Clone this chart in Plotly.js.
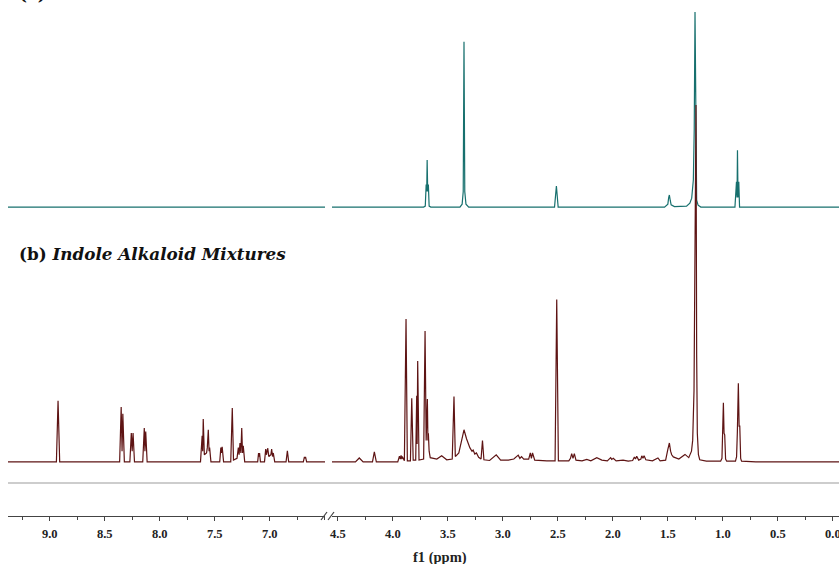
<!DOCTYPE html>
<html>
<head>
<meta charset="utf-8">
<script src="https://cdn.plot.ly/plotly-3.0.1.min.js"></script>
<style>html,body{margin:0;padding:0;background:#fff;}#chart{width:839px;height:564px;}</style>
</head>
<body>
<div id="chart"></div>
<script>
// (a) top spectrum (teal) — chemical shift (ppm) and relative intensity
const blankPpm = [9.5, 3.72, 3.705, 3.697, 3.692, 3.688, 3.683, 3.677, 3.67, 3.655,
  3.39, 3.37, 3.36, 3.353, 3.346, 3.335, 3.31,
  2.53, 2.513, 2.497,
  1.53, 1.50, 1.492, 1.486, 1.478, 1.47, 1.44,
  1.33, 1.30, 1.283, 1.268, 1.26, 1.253, 1.246, 1.238, 1.225, 1.20,
  0.89, 0.876, 0.871, 0.867, 0.862, 0.855, 0.848, -0.1];
const blankInt = [0, 0, 0.5, 11.6, 8, 24.1, 8, 11.6, 0.5, 0,
  0, 1.5, 8, 84.8, 8, 1.5, 0,
  0, 10.8, 0,
  0, 1.5, 5, 6.2, 3.4, 1.2, 0.3,
  0.5, 2, 4.6, 14, 40, 100, 20, 3.6, 1.0, 0,
  0, 13, 5, 29.2, 5, 13, 0, 0];

// (b) bottom spectrum (dark red) — Indole Alkaloid Mixtures
const mixPpm = [9.5, 8.94, 8.925, 8.91,
  8.365, 8.351, 8.343, 8.336, 8.322,
  8.272, 8.259, 8.251, 8.243, 8.230,
  8.155, 8.141, 8.135, 8.128, 8.115,
  7.63, 7.615, 7.610, 7.605, 7.595, 7.575, 7.568, 7.559, 7.552, 7.547, 7.535,
  7.455, 7.445, 7.440, 7.433, 7.42,
  7.355, 7.341, 7.33, 7.298, 7.286, 7.279, 7.271, 7.263, 7.255, 7.248, 7.241, 7.228,
  7.11, 7.102, 7.098, 7.093, 7.085,
  7.048, 7.037, 7.030, 7.019, 7.008, 6.99, 6.983, 6.975, 6.968, 6.955,
  6.852, 6.840, 6.828,
  6.695, 6.685, 6.680, 6.675, 6.665, 6.40,
  4.60, 4.34, 4.305, 4.27, 4.185, 4.168, 4.15,
  3.955, 3.94, 3.932, 3.925, 3.918, 3.914, 3.895, 3.88, 3.868,
  3.84, 3.828, 3.815, 3.792, 3.783, 3.779, 3.774, 3.762,
  3.72, 3.707, 3.697, 3.686, 3.681, 3.677, 3.67, 3.66,
  3.60, 3.556, 3.51, 3.46, 3.444, 3.432,
  3.40, 3.375, 3.353, 3.33, 3.30, 3.28, 3.27, 3.255, 3.24, 3.22,
  3.198, 3.185, 3.172, 3.12, 3.06, 3.02,
  2.95, 2.90, 2.86, 2.845, 2.83, 2.81, 2.765, 2.75, 2.74, 2.73, 2.71,
  2.6, 2.525, 2.51, 2.495,
  2.40, 2.385, 2.374, 2.362, 2.35, 2.335,
  2.28, 2.237, 2.20, 2.146, 2.10, 2.05, 2.02, 2.01, 1.996, 1.97, 1.907, 1.86,
  1.82, 1.804, 1.794, 1.783, 1.765, 1.745, 1.737, 1.726, 1.716, 1.70,
  1.64, 1.59, 1.57, 1.52, 1.50, 1.486, 1.475, 1.465, 1.45, 1.40,
  1.344, 1.31, 1.285, 1.274, 1.262, 1.252, 1.244, 1.238, 1.232, 1.222, 1.21, 1.15,
  1.02, 1.008, 1.001, 0.995, 0.989, 0.983, 0.975, 0.965,
  0.885, 0.875, 0.868, 0.859, 0.852, 0.846, 0.838, 0.83, 0.70, -0.1];
const mixInt = [0, 0, 17.1, 0,
  0, 15.4, 3, 13.5, 0,
  0, 8.1, 3, 8.1, 0,
  0, 9.5, 3, 8.5, 0,
  0, 7.3, 3, 12.0, 2, 2.5, 4, 9.0, 3, 4, 0,
  0, 4.0, 2.5, 4.2, 0,
  0, 15.1, 0.5, 1, 4, 2, 5.3, 2.5, 9.5, 2.5, 4.5, 0,
  0, 2.5, 1.5, 2.5, 0,
  0, 3.6, 2, 3.9, 1.5, 2, 3.6, 1.5, 2.5, 0,
  0, 3.1, 0,
  0, 1.4, 1, 1.4, 0, 0,
  0, 0, 1.1, 0, 0, 2.8, 0,
  0, 1.6, 0.8, 1.8, 0.8, 1.5, 0.3, 40.0, 0.3,
  0.3, 17.8, 0.5, 0.5, 18.5, 5, 28.3, 0.5,
  0.8, 36.7, 6, 17.6, 6, 8, 3, 1.2,
  0.8, 1.7, 0.6, 0.8, 18.3, 1.5,
  2.5, 6.5, 9.0, 6.5, 4.0, 3.0, 3.3, 2.2, 2.5, 1.3,
  0.8, 6.0, 0.6, 0.4, 2.0, 0.5,
  0.5, 0.8, 1.9, 1.0, 1.5, 0.8, 0.8, 2.5, 1.0, 2.5, 0.5,
  0.3, 0.3, 45.5, 0.3,
  0.3, 1.0, 2.3, 1.0, 2.3, 0.5,
  0.3, 0.7, 0.3, 1.2, 0.5, 0.3, 1.2, 0.7, 1.0, 0.3, 0.5, 0.2,
  0.4, 1.4, 0.8, 1.6, 0.5, 0.8, 1.7, 1.0, 1.7, 0.6,
  0.3, 1.1, 0.3, 0.5, 3.5, 5.3, 3.0, 2.0, 1.4, 0.8,
  2.1, 1.2, 3.0, 6.1, 20, 60, 100, 30, 8, 2.0, 0.6, 0.2,
  0.2, 1.0, 8.0, 16.6, 8, 7.6, 0.8, 0.2,
  0.2, 1.5, 8.4, 22.0, 10, 10.0, 1, 0.2, 0, 0];

const tickVals = [9.0, 8.5, 8.0, 7.5, 7.0, 4.5, 4.0, 3.5, 3.0, 2.5, 2.0, 1.5, 1.0, 0.5, 0.0];
const tickText = tickVals.map(v => v.toFixed(1));
const titleA = '<b>(a) <i>Blank Solvent</i></b>';
const titleB = '<b>(b) <i>Indole Alkaloid Mixtures</i></b>';
const xTitle = '<b>f1 (ppm)</b>';

const W = 839, H = 564;
const px = v => v / W, py = v => 1 - v / H;

const teal = '#17706e', red = '#5e1414';
const traces = [
  {x: blankPpm, y: blankInt, xaxis: 'x', yaxis: 'y', type: 'scatter', mode: 'lines', line: {color: teal, width: 1.2}, hoverinfo: 'skip'},
  {x: blankPpm, y: blankInt, xaxis: 'x2', yaxis: 'y', type: 'scatter', mode: 'lines', line: {color: teal, width: 1.2}, hoverinfo: 'skip'},
  {x: mixPpm, y: mixInt, xaxis: 'x', yaxis: 'y2', type: 'scatter', mode: 'lines', line: {color: red, width: 1.2}, hoverinfo: 'skip'},
  {x: mixPpm, y: mixInt, xaxis: 'x2', yaxis: 'y2', type: 'scatter', mode: 'lines', line: {color: red, width: 1.2}, hoverinfo: 'skip'}
];

const axFont = {family: 'Liberation Serif, serif', size: 12.5, color: '#222', weight: 'bold'};
const xCommon = {
  anchor: 'free', position: py(516), showgrid: false, zeroline: false,
  showline: true, linecolor: '#444', linewidth: 1.3,
  ticks: 'outside', ticklen: 4, tickwidth: 1, tickcolor: '#444',
  tickmode: 'array', tickvals: tickVals, ticktext: tickText,
  tickfont: axFont, ticklabeloverflow: 'allow', ticklabelstandoff: 2,
  minor: {dtick: 0.25, tick0: 0, ticks: 'outside', ticklen: 2.5, tickcolor: '#444', showgrid: false}
};

const titleFont = {family: 'DejaVu Serif, serif', size: 16.8, color: '#111'};
const layout = {
  width: W, height: H,
  margin: {l: 0, r: 0, t: 0, b: 0},
  paper_bgcolor: '#fff', plot_bgcolor: 'rgba(0,0,0,0)',
  showlegend: false,
  xaxis: Object.assign({}, xCommon, {domain: [px(8), px(325)], range: [9.38, 6.498]}),
  xaxis2: Object.assign({}, xCommon, {domain: [px(332), 1], range: [4.553, -0.056]}),
  yaxis: {domain: [0, 1], range: [-183, 106.2], visible: false, fixedrange: true},
  yaxis2: {domain: [0, 1], range: [-28.6, 129.4], visible: false, overlaying: 'y', fixedrange: true},
  shapes: [
    {type: 'line', xref: 'paper', yref: 'paper', x0: px(8), x1: 1, y0: py(483), y1: py(483), line: {color: '#bdbdbd', width: 1.5}},
    {type: 'line', xref: 'paper', yref: 'paper', x0: px(321), x1: px(327), y0: py(520), y1: py(512), line: {color: '#444', width: 1.2}},
    {type: 'line', xref: 'paper', yref: 'paper', x0: px(328), x1: px(334), y0: py(520), y1: py(512), line: {color: '#444', width: 1.2}}
  ],
  annotations: [
    {xref: 'paper', yref: 'paper', x: px(17), y: py(254), xanchor: 'left', yanchor: 'middle', showarrow: false,
     text: titleB, font: titleFont},
    {xref: 'paper', yref: 'paper', x: px(17), y: py(-6), xanchor: 'left', yanchor: 'middle', showarrow: false,
     text: titleA, font: titleFont},
    {xref: 'paper', yref: 'paper', x: px(440), y: py(557), xanchor: 'center', yanchor: 'middle', showarrow: false,
     text: xTitle, font: {family: 'Liberation Serif, serif', size: 14.5, color: '#222'}}
  ]
};

Plotly.newPlot('chart', traces, layout, {staticPlot: true, displayModeBar: false});
</script>
</body>
</html>
